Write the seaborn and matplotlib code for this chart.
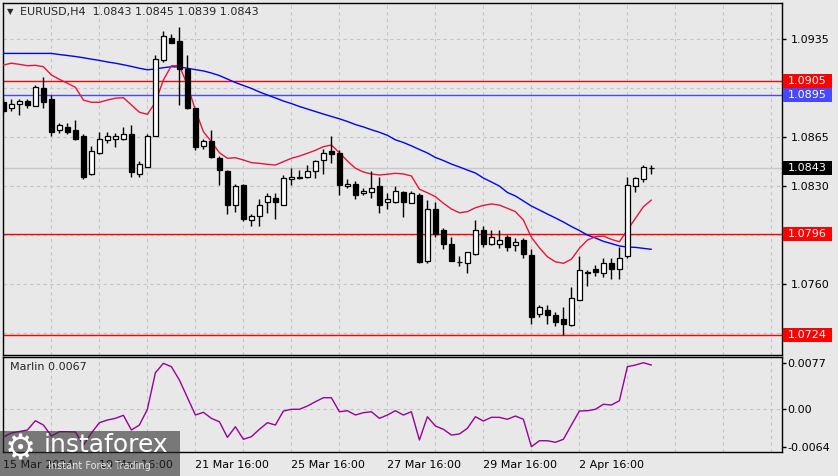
import numpy as np
import matplotlib
matplotlib.use("Agg")
import matplotlib.pyplot as plt
import matplotlib.transforms as mtransforms
from matplotlib.patches import Rectangle
import seaborn as sns

# EURUSD H4 candles (open, high, low, close)
opens = [1.0890, 1.0886, 1.0889, 1.0891, 1.0887, 1.0900, 1.0892, 1.0870, 1.0872, 1.0870,
         1.0866, 1.0839, 1.0854, 1.0863, 1.0864, 1.0864, 1.0867, 1.0839, 1.0844, 1.0866,
         1.0920, 1.0936, 1.0934, 1.0914, 1.0886, 1.0859, 1.0862, 1.0850, 1.0841, 1.0817,
         1.0831, 1.0806, 1.0809, 1.0819, 1.0822, 1.0817, 1.0835, 1.0836, 1.0837, 1.0841,
         1.0849, 1.0855, 1.0854, 1.0830, 1.0832, 1.0825, 1.0826, 1.0830, 1.0819, 1.0819,
         1.0826, 1.0818, 1.0824, 1.0777, 1.0814, 1.0799, 1.0789, 1.0776, 1.0775, 1.0782,
         1.0799, 1.0789, 1.0789, 1.0794, 1.0788, 1.0792, 1.0781, 1.0739, 1.0742, 1.0738,
         1.0735, 1.0731, 1.0749, 1.0769, 1.0771, 1.0768, 1.0775, 1.0771, 1.0780, 1.0830,
         1.0835, 1.0843]
highs = [1.0893, 1.0892, 1.0892, 1.0892, 1.0902, 1.0908, 1.0895, 1.0875, 1.0875, 1.0877,
         1.0867, 1.0859, 1.0869, 1.0869, 1.0868, 1.0872, 1.0874, 1.0848, 1.0867, 1.0924,
         1.0941, 1.0939, 1.0944, 1.0924, 1.0886, 1.0864, 1.0870, 1.0852, 1.0842, 1.0832,
         1.0832, 1.0810, 1.0821, 1.0825, 1.0825, 1.0838, 1.0843, 1.0842, 1.0845, 1.0849,
         1.0857, 1.0866, 1.0856, 1.0835, 1.0834, 1.0829, 1.0841, 1.0837, 1.0825, 1.0830,
         1.0827, 1.0827, 1.0825, 1.0820, 1.0819, 1.0800, 1.0794, 1.0780, 1.0783, 1.0806,
         1.0802, 1.0799, 1.0799, 1.0795, 1.0793, 1.0793, 1.0785, 1.0745, 1.0745, 1.0740,
         1.0744, 1.0758, 1.0780, 1.0770, 1.0774, 1.0779, 1.0779, 1.0787, 1.0837, 1.0837,
         1.0845, 1.0845]
lows = [1.0882, 1.0884, 1.0881, 1.0886, 1.0887, 1.0886, 1.0866, 1.0868, 1.0867, 1.0863,
        1.0835, 1.0838, 1.0853, 1.0861, 1.0858, 1.0863, 1.0837, 1.0837, 1.0844, 1.0866,
        1.0919, 1.0932, 1.0888, 1.0885, 1.0856, 1.0857, 1.0850, 1.0831, 1.0810, 1.0812,
        1.0805, 1.0802, 1.0802, 1.0811, 1.0807, 1.0817, 1.0831, 1.0835, 1.0836, 1.0836,
        1.0839, 1.0847, 1.0824, 1.0829, 1.0821, 1.0824, 1.0822, 1.0811, 1.0814, 1.0818,
        1.0808, 1.0818, 1.0775, 1.0775, 1.0794, 1.0785, 1.0777, 1.0773, 1.0768, 1.0781,
        1.0787, 1.0788, 1.0786, 1.0784, 1.0784, 1.0779, 1.0732, 1.0737, 1.0732, 1.0730,
        1.0724, 1.0730, 1.0749, 1.0759, 1.0766, 1.0765, 1.0764, 1.0764, 1.0779, 1.0826,
        1.0833, 1.0839]
closes = [1.0884, 1.0889, 1.0891, 1.0888, 1.0901, 1.0890, 1.0869, 1.0874, 1.0869, 1.0864,
          1.0837, 1.0855, 1.0864, 1.0866, 1.0866, 1.0867, 1.0840, 1.0846, 1.0866, 1.0921,
          1.0937, 1.0932, 1.0914, 1.0886, 1.0858, 1.0862, 1.0851, 1.0842, 1.0817, 1.0830,
          1.0807, 1.0809, 1.0817, 1.0823, 1.0819, 1.0836, 1.0837, 1.0837, 1.0841, 1.0848,
          1.0854, 1.0853, 1.0831, 1.0832, 1.0824, 1.0827, 1.0829, 1.0817, 1.0821, 1.0827,
          1.0819, 1.0825, 1.0776, 1.0814, 1.0796, 1.0789, 1.0777, 1.0776, 1.0783, 1.0799,
          1.0789, 1.0794, 1.0792, 1.0787, 1.0790, 1.0782, 1.0737, 1.0744, 1.0738, 1.0733,
          1.0732, 1.0750, 1.0770, 1.0768, 1.0769, 1.0775, 1.0771, 1.0779, 1.0831, 1.0836,
          1.0844, 1.0843]

# moving averages (red = fast, blue = slow)
ma_fast = [1.09166, 1.09179, 1.09171, 1.09161, 1.09164, 1.09154, 1.09095, 1.09064, 1.09036, 1.09007,
           1.08916, 1.08900, 1.08900, 1.08916, 1.08929, 1.08933, 1.08881, 1.08829, 1.08814, 1.08900,
           1.09059, 1.09161, 1.09161, 1.09024, 1.08845, 1.08690, 1.08619, 1.08540, 1.08500, 1.08504,
           1.08488, 1.08469, 1.08464, 1.08457, 1.08452, 1.08476, 1.08500, 1.08516, 1.08536, 1.08557,
           1.08583, 1.08595, 1.08540, 1.08481, 1.08429, 1.08402, 1.08388, 1.08381, 1.08386, 1.08393,
           1.08388, 1.08374, 1.08279, 1.08254, 1.08226, 1.08179, 1.08138, 1.08111, 1.08119, 1.08147,
           1.08164, 1.08174, 1.08166, 1.08143, 1.08119, 1.08059, 1.07936, 1.07861, 1.07797, 1.07761,
           1.07750, 1.07779, 1.07857, 1.07916, 1.07940, 1.07945, 1.07921, 1.07904, 1.07988, 1.08071,
           1.08154, 1.08202]
ma_slow = [1.09249, 1.09249, 1.09249, 1.09249, 1.09249, 1.09249, 1.09249, 1.09241, 1.09234, 1.09227,
           1.09218, 1.09208, 1.09199, 1.09188, 1.09179, 1.09168, 1.09156, 1.09143, 1.09132, 1.09138,
           1.09147, 1.09154, 1.09152, 1.09143, 1.09133, 1.09124, 1.09109, 1.09091, 1.09066, 1.09041,
           1.09020, 1.08999, 1.08974, 1.08952, 1.08931, 1.08909, 1.08891, 1.08870, 1.08852, 1.08834,
           1.08816, 1.08799, 1.08782, 1.08763, 1.08741, 1.08724, 1.08704, 1.08686, 1.08664, 1.08632,
           1.08613, 1.08589, 1.08563, 1.08538, 1.08506, 1.08484, 1.08459, 1.08438, 1.08416, 1.08395,
           1.08359, 1.08331, 1.08302, 1.08256, 1.08231, 1.08195, 1.08159, 1.08131, 1.08102, 1.08074,
           1.08045, 1.08013, 1.07984, 1.07952, 1.07931, 1.07907, 1.07891, 1.07874, 1.07866, 1.07864,
           1.07857, 1.07850]

# Marlin oscillator
marlin = [-0.00473, -0.00406, -0.00381, -0.00356, -0.00200, -0.00272, -0.00457, -0.00384, -0.00384, -0.00390,
          -0.00608, -0.00406, -0.00233, -0.00188, -0.00160, -0.00109, -0.00356, -0.00272, -0.00008, 0.00606,
          0.00764, 0.00707, 0.00484, 0.00190, -0.00104, -0.00059, -0.00160, -0.00217, -0.00479, -0.00301,
          -0.00512, -0.00468, -0.00344, -0.00233, -0.00272, -0.00037, -0.00008, -0.00008, 0.00047, 0.00119,
          0.00186, 0.00186, -0.00049, -0.00032, -0.00104, -0.00065, -0.00049, -0.00160, -0.00104, -0.00032,
          -0.00104, -0.00049, -0.00524, -0.00133, -0.00289, -0.00344, -0.00440, -0.00423, -0.00327, -0.00133,
          -0.00205, -0.00143, -0.00143, -0.00176, -0.00121, -0.00176, -0.00636, -0.00536, -0.00536, -0.00562,
          -0.00512, -0.00272, -0.00037, -0.00032, -0.00008, 0.00076, 0.00064, 0.00136, 0.00707, 0.00735,
          0.00774, 0.00735]

date_labels = ["15 Mar 2024", "19 Mar 16:00", "21 Mar 16:00", "25 Mar 16:00",
               "27 Mar 16:00", "29 Mar 16:00", "2 Apr 16:00"]
date_pos = [0, 12, 24, 36, 48, 60, 72]

price_ticks = [1.0935, 1.0900, 1.0865, 1.0830, 1.0795, 1.0760, 1.0725]
price_tick_labels = ["1.0935", "", "1.0865", "1.0830", "", "1.0760", ""]

# horizontal levels: (price, colour)
levels = [(1.0905, "#ff0000"), (1.0895, "#4848ff"), (1.0796, "#ff0000"), (1.0724, "#ff0000")]
last_price = 1.0843

bg = "#e8e8e8"
sns.set_style("white")
plt.rcParams["font.family"] = ["DejaVu Sans"]

fig = plt.figure(figsize=(8.38, 4.76), dpi=100, facecolor=bg)
W, H = 838, 476
ax = fig.add_axes([3 / W, 1 - 354.5 / H, 779 / W, 351.5 / H], facecolor=bg)
ax2 = fig.add_axes([3 / W, 1 - 452 / H, 779 / W, 95 / H], facecolor=bg)

idx = np.arange(len(opens))
o = np.array(opens); c = np.array(closes)
up = c >= o

# grid
for a in (ax, ax2):
    for xg in range(6, 98, 6):
        a.axvline(xg, color="#c4c4c4", lw=0.8, ls=(0, (3, 3)), zorder=0)
for p in price_ticks:
    ax.axhline(p, color="#c4c4c4", lw=0.8, ls=(0, (3, 3)), zorder=0)
ax2.axhline(0, color="#c4c4c4", lw=0.8, ls=(0, (3, 3)), zorder=0)

# level lines
ax.axhline(last_price, color="#c8c8c8", lw=1.0, zorder=1)
for p, col in levels:
    ax.axhline(p, color=col, lw=1.0, zorder=1)

# moving averages
sns.lineplot(x=idx, y=ma_slow, ax=ax, color="#0000ff", lw=1.0, zorder=4)
sns.lineplot(x=idx, y=ma_fast, ax=ax, color="#e8143c", lw=1.0, zorder=4)

# candles
ax.vlines(idx, lows, highs, color="black", lw=1.0, zorder=5)
body_h = np.where(np.abs(c - o) < 1e-6, 0.000015, c - o)
ax.bar(idx, body_h, bottom=o, width=0.62, color=np.where(up, "white", "black"),
       edgecolor="black", linewidth=0.9, zorder=6)

ax.set_xlim(-0.05, 97.325)
ax.set_ylim(1.07099, 1.09609)
ax.set_xticks([])
ax.yaxis.tick_right()
ax.set_yticks(price_ticks)
ax.set_yticklabels(price_tick_labels)
ax.tick_params(axis="y", direction="out", length=3, width=1, pad=3, labelsize=8, colors="black")
ax.set_xlabel(""); ax.set_ylabel("")

# price label boxes on the right axis
trans = mtransforms.blended_transform_factory(ax.transAxes, ax.transData)
half = 6.8 / 14000
boxes = levels + [(last_price, "black")]
for p, col in boxes:
    ax.add_patch(Rectangle((1 + 1 / 779, p - half), 49 / 779, 2 * half, transform=trans,
                           facecolor=col, edgecolor="none", clip_on=False, zorder=10))
    ax.text(1 + 6 / 779, p, f"{p:.4f}", transform=trans, color="white", fontsize=8,
            va="center", ha="left", zorder=11, clip_on=False)

# Marlin panel
sns.lineplot(x=idx, y=marlin, ax=ax2, color="#990099", lw=1.0, zorder=4)
ax2.set_xlim(-0.05, 97.325)
ax2.set_ylim(-0.00725, 0.0087)
ax2.yaxis.tick_right()
ax2.set_yticks([0.0077, 0.0, -0.0064])
ax2.set_yticklabels(["0.0077", "0.00", "-0.0064"])
ax2.tick_params(axis="y", direction="out", length=3, width=1, pad=1, labelsize=8, colors="black")
ax2.set_xticks(date_pos)
ax2.set_xticklabels(date_labels, ha="left")
ax2.tick_params(axis="x", direction="out", length=3, width=1, pad=3, labelsize=8, colors="black")
ax2.set_xlabel(""); ax2.set_ylabel("")
ax2.text(7 / 779, 0.895, "Marlin 0.0067", transform=ax2.transAxes, fontsize=8, va="center", ha="left")

for a in (ax, ax2):
    for s in a.spines.values():
        s.set_color("black")
        s.set_linewidth(1.0)

# title
fig.text(7 / W, 1 - 12 / H, "\u25bc", fontsize=6, va="center", ha="left")
fig.text(20 / W, 1 - 12 / H, "EURUSD,H4  1.0843 1.0845 1.0839 1.0843", fontsize=8,
         va="center", ha="left")

# watermark
fig.add_artist(Rectangle((0, 0), 180 / W, 45.5 / H, transform=fig.transFigure,
                         facecolor="#2d2d2d", alpha=0.6, edgecolor="none", zorder=20))
fig.text(5 / W, 1 - 450 / H, "\u2699", fontsize=25, color="white", va="center", ha="left", zorder=21)
fig.text(44 / W, 1 - 445 / H, "instaforex", fontsize=18, color="white", va="center", ha="left", zorder=21)
fig.text(48 / W, 1 - 466 / H, "Instant Forex Trading", fontsize=7, color="#e6e6e6",
         va="center", ha="left", zorder=21)

fig.savefig("out.png", dpi=100, facecolor=bg)
